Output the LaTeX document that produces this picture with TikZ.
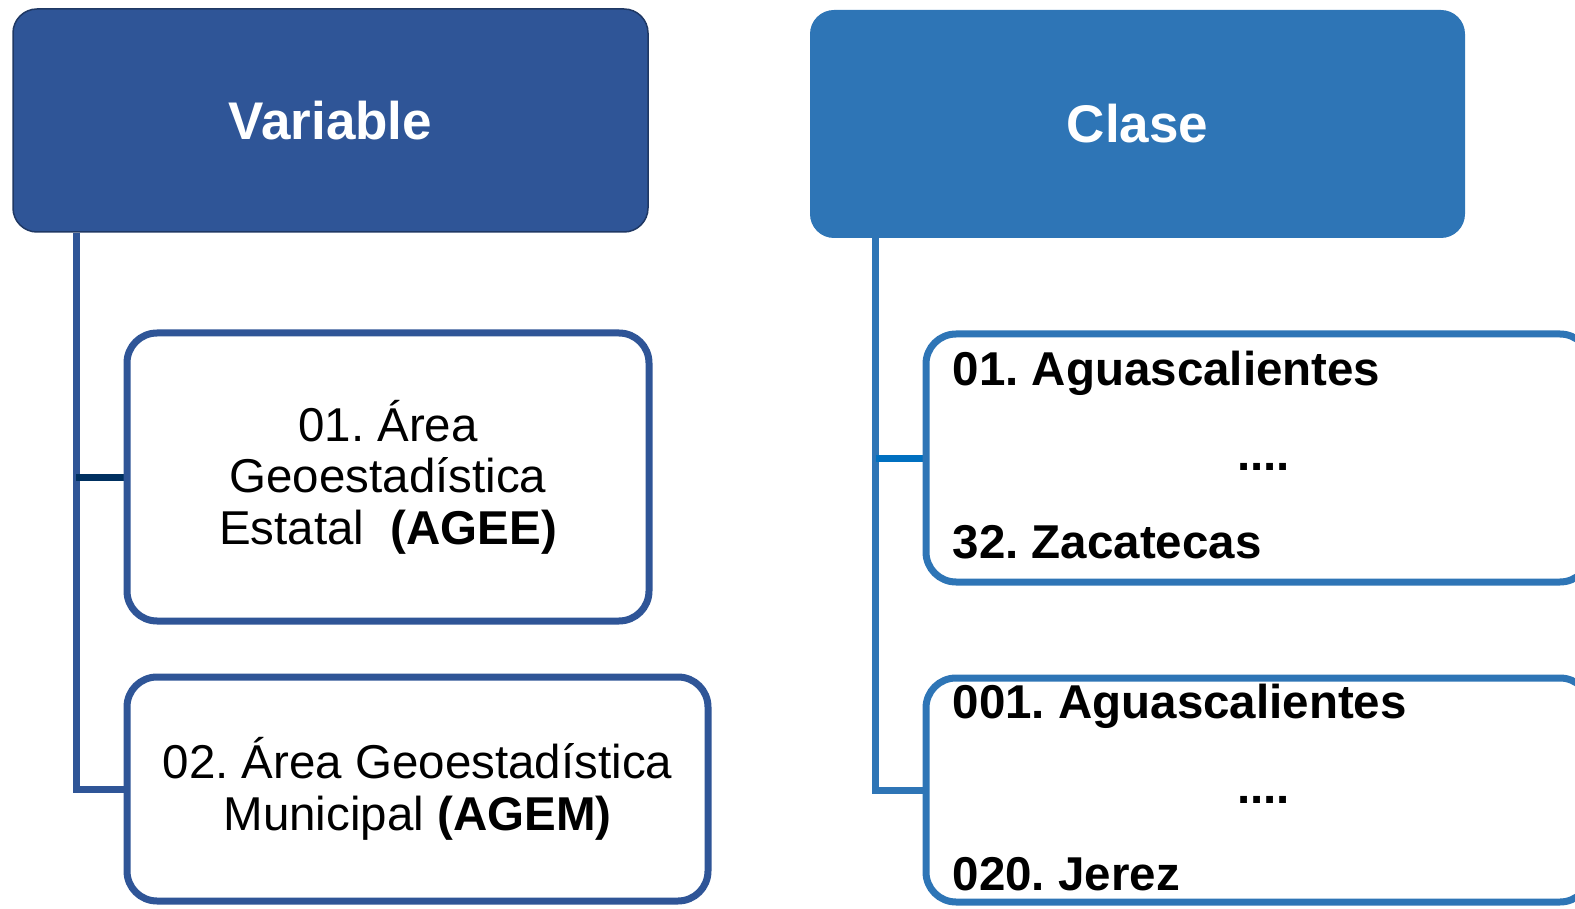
\documentclass[tikz,border=0pt]{standalone}
\usepackage{fontspec}
\setmainfont{Liberation Sans}
\usepackage{tikz}
\usetikzlibrary{calc,positioning,backgrounds}

\definecolor{varblue}{RGB}{47,85,151}
\definecolor{varedge}{RGB}{31,56,100}
\definecolor{clablue}{RGB}{46,117,182}
\definecolor{navy}{RGB}{0,48,96}
\definecolor{brightblue}{RGB}{0,112,192}

\tikzset{
	head/.style={rectangle, rounded corners=24pt, text=white,
		font=\fontsize{53}{60}\selectfont\bfseries},
	box/.style={rectangle, rounded corners=30pt, fill=white, line width=7pt,
		align=center, font=\fontsize{47.5}{51.5}\selectfont},
	item/.style={inner sep=0pt, anchor=base west,
		font=\fontsize{47.5}{51.5}\selectfont\bfseries},
	dots/.style={item, anchor=base},
	trunk/.style={line width=7pt},
}

\begin{document}
\frenchspacing
\begin{tikzpicture}[x=1pt, y=-1pt]
				\useasboundingbox (0,0) rectangle (1575,909);
				
				% headers
				\node (var) [head, fill=varblue, draw=varedge, line width=1.5pt,
					minimum width=635pt, minimum height=223pt] at (330.5,120.5) {Variable};
				\node (cla) [head, fill=clablue,
					minimum width=655pt, minimum height=228pt] at (1137.5,124) {Clase};
				
				% left column
				\node (agee) [box, draw=varblue, minimum width=522pt, minimum height=288pt]
					at (388,477) {01. Área\\Geoestadística\\Estatal\ \ \textbf{(AGEE)}};
				\node (agem) [box, draw=varblue, minimum width=581pt, minimum height=224pt]
					at (417.5,789) {02. Área Geoestadística\\Municipal \textbf{(AGEM)}};
				
				% right column (runs past the right margin)
				\node (edo) [box, draw=clablue, minimum width=664pt, minimum height=248pt] at (1258,458) {};
				\node (mun) [box, draw=clablue, minimum width=664pt, minimum height=224pt] at (1258,790) {};
				
				\node (ags1) [item] at ($(edo.north west)+(30,55)$) {01. Aguascalientes};
				\node (dots1) [dots] at ($(edo.north west)+(341,140)$) {....};
				\node (zac) [item] at ($(edo.north west)+(30,228)$) {32. Zacatecas};
				%
				\node (ags2) [item] at ($(mun.north west)+(30,44)$) {001. Aguascalientes};
				\node (dots2) [dots] at ($(mun.north west)+(341,129)$) {....};
				\node (jer) [item] at ($(mun.north west)+(30,216)$) {020. Jerez};
				
				\begin{scope}[on background layer]
					\draw[trunk, varblue] ($(var.south west)+(64,0)$) coordinate (vt) |- (agem.west);
					\draw[trunk, navy] (agee.west) -- (agee.west -| vt);
					\draw[trunk, clablue] ($(cla.south west)+(66,0)$) coordinate (ct) |- (mun.west);
					\draw[trunk, brightblue] (edo.west) -- (edo.west -| ct);
				\end{scope}
			\end{tikzpicture}
\end{document}
